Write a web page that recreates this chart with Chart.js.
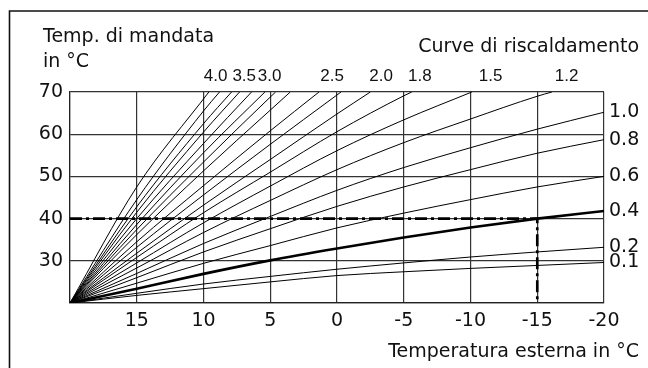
<!DOCTYPE html>
<html>
<head>
<meta charset="utf-8">
<script src="https://cdn.jsdelivr.net/npm/chart.js@4.4.1/dist/chart.umd.min.js"></script>
<style>
html, body { margin: 0; padding: 0; background: #fff; }
#wrap { position: relative; width: 648px; height: 368px; }
</style>
</head>
<body>
<div id="wrap"><canvas id="curveChart" width="648" height="368"></canvas></div>
<script>
// outdoor temperatures (x), flow temperatures per curve read at those points
var outdoorTemps = [20, 15, 10, 5, 0, -5, -10, -15, -20];

var curveLabels = ['0.1', '0.2', '0.4', '0.6', '0.8', '1.0', '1.2', '1.5', '1.8', '2.0',
                   '', '2.5', '', '', '', '3.0', '', '3.5', '', '4.0'];

var flowTemps = [
  [20, 21.8, 23.4, 25.0, 26.5, 27.4, 28.2, 28.9, 29.6],
  [20, 22.3, 24.5, 26.3, 28.0, 29.5, 30.9, 32.1, 33.2],
  [20, 23.4, 26.9, 30.1, 32.9, 35.5, 37.9, 40.0, 41.8],
  [20, 24.7, 29.4, 33.6, 37.8, 41.3, 44.5, 47.5, 50.0],
  [20, 26.0, 32.1, 37.6, 42.9, 47.5, 51.6, 55.5, 58.7],
  [20, 27.0, 34.1, 40.5, 46.7, 52.1, 56.8, 61.2, 65.2],
  [20, 28.3, 36.7, 44.3, 51.6, 58.0, 63.6, 69.0],
  [20, 29.5, 39.0, 47.7, 56.1, 63.4],
  [20, 30.8, 41.4, 51.0, 60.6, 69.1],
  [20, 31.8, 43.2, 54.0, 64.8],
  [20, 33.2, 45.6, 57.6, 69.3],
  [20, 34.5, 47.8, 60.8],
  [20, 36.2, 51.3, 65.7],
  [20, 37.4, 53.4, 68.8],
  [20, 38.6, 55.6],
  [20, 40.0, 57.8],
  [20, 41.5, 60.5],
  [20, 42.8, 62.5],
  [20, 44.5, 65.5],
  [20, 47.5]
];

// outdoor temp where the curve leaves the top of the chart (70 °C), null = runs to -20
var exitTemps = [null, null, null, null, null, null, -16.1, -10.1, -5.6, -2.5,
                 -0.3, 1.35, 3.5, 4.6, 5.4, 6.4, 7.3, 7.9, 8.8, 9.6];

var boldCurve = '0.4';

var topLabels = ['4.0', '3.5', '3.0', '2.5', '2.0', '1.8', '1.5', '1.2'];
var topLabelTemps = [9.1, 6.95, 5.05, 0.37, -3.3, -6.2, -11.5, -17.2];

var markerOutdoor = -15;
var markerFlow = 40;

var yTitle = ['Temp. di mandata', 'in °C'];
var curvesTitle = 'Curve di riscaldamento';
var xTitle = 'Temperatura esterna in °C';

Chart.defaults.font.family = "'DejaVu Sans', sans-serif";
Chart.defaults.font.size = 19;
Chart.defaults.color = '#111';

function curvePoints(i) {
  var pts = [];
  for (var k = 0; k < flowTemps[i].length; k++) {
    pts.push({x: outdoorTemps[k], y: flowTemps[i][k]});
  }
  if (exitTemps[i] !== null) pts.push({x: exitTemps[i], y: 70});
  return pts;
}

var datasets = [];
for (var i = 0; i < flowTemps.length; i++) {
  datasets.push({
    label: curveLabels[i],
    data: curvePoints(i),
    borderColor: '#000',
    borderWidth: curveLabels[i] === boldCurve ? 2.6 : 1,
    pointRadius: 0,
    showLine: true,
    fill: false,
    cubicInterpolationMode: 'monotone'
  });
}
datasets.push({
  label: 'marker',
  data: [{x: outdoorTemps[0], y: markerFlow}, {x: markerOutdoor, y: markerFlow}, {x: markerOutdoor, y: 20}],
  borderColor: '#000',
  borderWidth: 2.6,
  borderDash: [12, 4, 3, 4],
  pointRadius: 0,
  showLine: true,
  fill: false
});

var decorPlugin = {
  id: 'decor',
  beforeDraw: function (chart) {
    var ctx = chart.ctx;
    ctx.save();
    ctx.fillStyle = '#fff';
    ctx.fillRect(0, 0, chart.width, chart.height);
    ctx.strokeStyle = '#111';
    ctx.lineWidth = 1.6;
    ctx.beginPath();
    ctx.moveTo(9.5, chart.height);
    ctx.lineTo(9.5, 11);
    ctx.lineTo(chart.width, 11);
    ctx.stroke();
    ctx.restore();
  },
  afterDraw: function (chart) {
    var ctx = chart.ctx;
    var xs = chart.scales.x, ys = chart.scales.y;
    var area = chart.chartArea;
    ctx.save();
    ctx.fillStyle = '#111';
    ctx.textBaseline = 'middle';
    ctx.font = "19px 'DejaVu Sans'";
    ctx.textAlign = 'left';
    ctx.fillText(yTitle[0], 43, 37);
    ctx.fillText(yTitle[1], 43, 62);
    ctx.textAlign = 'right';
    ctx.fillText(curvesTitle, 639, 47);
    ctx.fillText(xTitle, 639, 352);

    // labels at the right end of the curves that run to -20
    ctx.textAlign = 'left';
    for (var i = 0; i < flowTemps.length; i++) {
      if (exitTemps[i] === null && curveLabels[i]) {
        var f = flowTemps[i];
        ctx.fillText(curveLabels[i], area.right + 5, ys.getPixelForValue(f[f.length - 1]));
      }
    }
    // labels above the steep curves
    ctx.textAlign = 'center';
    ctx.font = "17px 'Liberation Sans'";
    for (var j = 0; j < topLabels.length; j++) {
      ctx.fillText(topLabels[j], xs.getPixelForValue(topLabelTemps[j]), 76);
    }
    ctx.restore();
  }
};

new Chart('curveChart', {
  type: 'scatter',
  data: {datasets: datasets},
  options: {
    responsive: false,
    animation: false,
    layout: {padding: {top: 92, right: 44, left: 0, bottom: 0}},
    plugins: {legend: {display: false}, tooltip: {enabled: false}},
    scales: {
      x: {
        type: 'linear',
        min: -20,
        max: 20,
        reverse: true,
        grid: {color: '#333', lineWidth: 1.2, drawTicks: false},
        border: {color: '#222', width: 1.2},
        ticks: {
          stepSize: 5,
          padding: 7,
          color: '#111',
          font: {size: 19},
          callback: function (v) { return v === 20 ? '' : String(v); }
        },
        afterFit: function (s) { s.height = 65; }
      },
      y: {
        min: 20,
        max: 70,
        grid: {color: '#333', lineWidth: 1.2, drawTicks: false},
        border: {color: '#222', width: 1.2},
        ticks: {
          stepSize: 10,
          padding: 7,
          color: '#111',
          font: {size: 19},
          callback: function (v) { return v === 20 ? '' : String(v); }
        },
        afterFit: function (s) { s.width = 70; }
      }
    }
  },
  plugins: [decorPlugin]
});
</script>
</body>
</html>
